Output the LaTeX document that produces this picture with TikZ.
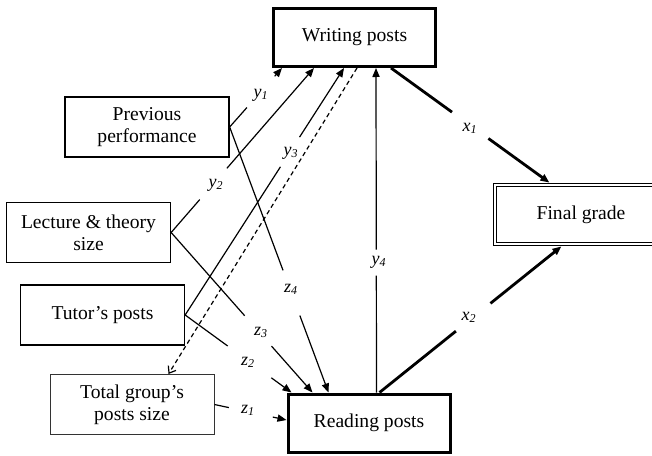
\documentclass[tikz,border=0pt]{standalone}
\usepackage{fontspec}
\setmainfont{LiberationSerif}[Extension=.ttf, UprightFont=*-Regular, ItalicFont=*-Italic, BoldFont=*-Bold, BoldItalicFont=*-BoldItalic]
\usetikzlibrary{calc,arrows.meta}
\newcommand\gapline[5]{%
  \draw[#1] (#2) -- ($(#2)!#4!(#3)$);
  \draw[#1,-{Triangle[length=4.5pt,width=3.6pt]}] ($(#2)!#5!(#3)$) -- (#3);}
\begin{document}
\begin{tikzpicture}[x=0.5pt,y=-0.5pt,
  box/.style={draw, line width=0.65pt, minimum width=82pt, minimum height=30pt,
    align=center, inner sep=0pt, font=\fontsize{9.8}{11}\selectfont},
  heavybox/.style={box, line width=1.5pt, minimum width=81pt, minimum height=29pt},
  thinline/.style={line width=0.6pt},
  thickline/.style={line width=1.4pt},
  lbl/.style={font=\fontsize{9}{9}\selectfont\itshape, inner sep=0pt}]
\useasboundingbox (0,0) rectangle (652,455);

% boxes
\node[box] (pp) at (147,127) {Previous\\performance};
\node[box] (lt) at (88.5,232.5) {Lecture \& theory\\size};
\node[box] (tp) at (102.5,315) {Tutor’s posts};
\node[box, draw=black!80, line width=0.5pt] (tg) at (132,404.5) {Total group’s\\posts size};
\node[heavybox] (wp) at (354.5,37.5) {Writing posts};
\node[heavybox] (rp) at (369,423) {Reading posts};
\node[box, double, double distance=1pt, line width=0.6pt, minimum width=86pt, minimum height=29.3pt] (fg) at (581,214.5) {Final grade};

% attachment points
\coordinate (wpA) at ($(wp.south west)+(10,0)$);
\coordinate (wpB) at ($(wp.south west)+(42,0)$);
\coordinate (wpC) at ($(wp.south west)+(72,0)$);
\coordinate (wpD) at ($(wp.south west)+(85,0)$);
\coordinate (wpE) at ($(wp.south west)+(104,0)$);
\coordinate (wpF) at ($(wp.south west)+(119,0)$);
\coordinate (rpA) at ($(rp.north west)+(5,0)$);
\coordinate (rpB) at ($(rp.north west)+(26,0)$);
\coordinate (rpC) at ($(rp.north west)+(42,0)$);
\coordinate (rpD) at ($(rp.north west)+(90,0)$);
\coordinate (rpE) at ($(rp.north west)+(93,0)$);
\coordinate (rpL) at ($(rp.west)+(0,-3)$);
\coordinate (fgT) at ($(fg.north west)+(55,-2)$);
\coordinate (fgB) at ($(fg.south west)+(67,2)$);
\coordinate (tgT) at ($(tg.north west)+(119,0)$);

% connectors
\gapline{thinline}{pp.east}{wpA}{0.33}{0.86}
\gapline{thinline}{pp.east}{rpC}{0.54}{0.71}
\gapline{thinline}{lt.east}{wpB}{0.20}{0.39}
\gapline{thinline}{lt.east}{rpB}{0.52}{0.71}
\gapline{thinline}{tp.east}{wpC}{0.60}{0.72}
\gapline{thinline}{tp.east}{rpA}{0.40}{0.81}
\gapline{thinline}{tg.east}{rpL}{0.20}{0.81}
\gapline{thinline}{rpD}{wpE}{0.36}{0.44}
\gapline{thickline}{wpF}{fgT}{0.385}{0.615}
\gapline{thickline}{rpE}{fgB}{0.42}{0.61}
\draw[thinline, dash pattern=on 2.2pt off 1.6pt, -{Straight Barb[length=3pt,width=4.5pt]}] (wpD) -- (tgT);

% labels
\node[lbl] (ly1) at (261,95) {y\textsubscript{1}};
\node[lbl] (ly2) at (216,185) {y\textsubscript{2}};
\node[lbl] (ly3) at (291,153) {y\textsubscript{3}};
\node[lbl] (ly4) at (379,262) {y\textsubscript{4}};
\node[lbl] (lz1) at (248,410) {z\textsubscript{1}};
\node[lbl] (lz2) at (248,362) {z\textsubscript{2}};
\node[lbl] (lz3) at (261,332) {z\textsubscript{3}};
\node[lbl] (lz4) at (291,289) {z\textsubscript{4}};
\node[lbl] (lx1) at (470,128) {x\textsubscript{1}};
\node[lbl] (lx2) at (469,317) {x\textsubscript{2}};
\end{tikzpicture}
\end{document}
